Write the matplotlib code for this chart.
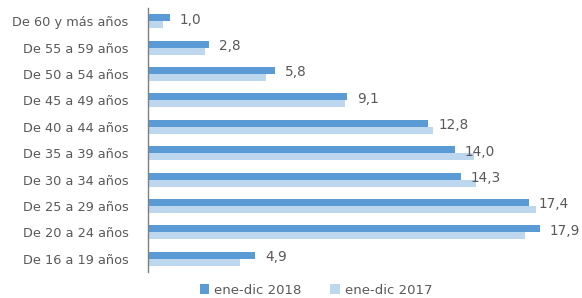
import matplotlib
matplotlib.use("Agg")
import matplotlib.pyplot as plt
import numpy as np

categories = ["De 60 y más años", "De 55 a 59 años", "De 50 a 54 años",
              "De 45 a 49 años", "De 40 a 44 años", "De 35 a 39 años",
              "De 30 a 34 años", "De 25 a 29 años", "De 20 a 24 años",
              "De 16 a 19 años"]
vals_2018 = [1.0, 2.8, 5.8, 9.1, 12.8, 14.0, 14.3, 17.4, 17.9, 4.9]
vals_2017 = [0.7, 2.6, 5.4, 9.0, 13.0, 14.9, 15.0, 17.7, 17.2, 4.2]
series_names = ["ene-dic 2018", "ene-dic 2017"]

c2018 = "#5B9BD5"
c2017 = "#BDD7EE"
txt = "#595959"

plt.rcParams["font.family"] = ["DejaVu Sans"]

fig = plt.figure(figsize=(5.82, 2.98), dpi=100)
ax = fig.add_axes([148 / 582, 1 - 272 / 298, (570 - 148) / 582, 264 / 298])

y = np.arange(len(categories))
h = 0.265
ax.barh(y - h / 2, vals_2018, height=h, color=c2018, label=series_names[0])
ax.barh(y + h / 2, vals_2017, height=h, color=c2017, label=series_names[1])

for yi, v in zip(y, vals_2018):
    ax.text(v + 0.45, yi - 0.06, f"{v:.1f}".replace(".", ","), va="center",
            ha="left", fontsize=9.8, color=txt)

ax.set_ylim(len(categories) - 0.5, -0.5)
ax.set_xlim(0, 19.27)
ax.set_yticks(y)
ax.set_yticklabels(categories, fontsize=9.3, color=txt)
ax.set_xticks([])
ax.tick_params(axis="y", length=0, pad=14)
for s in ["top", "right", "bottom"]:
    ax.spines[s].set_visible(False)
ax.spines["left"].set_color("#7f7f7f")
ax.spines["left"].set_linewidth(1.0)

fig.legend(loc="center", bbox_to_anchor=(316 / 582, 1 - 290 / 298), ncol=2,
           frameon=False, fontsize=9.5, labelcolor=txt, handlelength=0.7,
           handleheight=0.7, handletextpad=0.4, columnspacing=2.2)

fig.savefig("out.png", dpi=100)
